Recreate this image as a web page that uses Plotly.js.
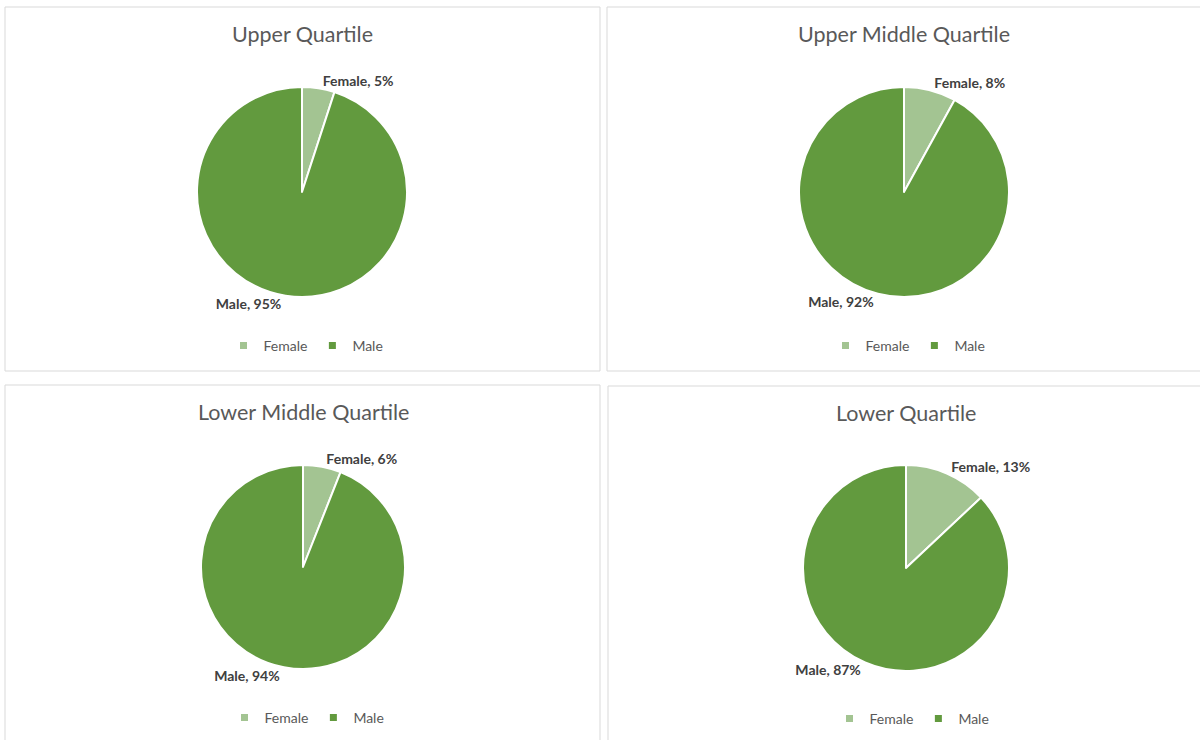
<!DOCTYPE html>
<html>
<head>
<meta charset="utf-8">
<script src="https://cdn.plot.ly/plotly-3.0.1.min.js"></script>
<style>html,body{margin:0;padding:0;background:#fff;}#chart{width:1200px;height:740px;}</style>
</head>
<body>
<div id="chart"></div>
<script>
// Data
const categories = ["Female", "Male"];
const panelTitles = ["Upper Quartile", "Upper Middle Quartile", "Lower Middle Quartile", "Lower Quartile"];
const upperQuartile = [5, 95];
const upperMiddleQuartile = [8, 92];
const lowerMiddleQuartile = [6, 94];
const lowerQuartile = [13, 87];
const seriesValues = [upperQuartile, upperMiddleQuartile, lowerMiddleQuartile, lowerQuartile];

const W = 1200, H = 740;
const sliceColors = ["#A3C492", "#629A3E"];
// layout geometry (pixels): pie centre + radius, title position, legend position, panel box
const pies = [
  {cx: 302, cy: 192, r: 105, tx: 302, ty: 34, lx: 306, ly: 346, box: [5, 7, 600, 371]},
  {cx: 904, cy: 192, r: 105, tx: 904, ty: 34, lx: 908, ly: 346, box: [607, 7, 1205, 371]},
  {cx: 303, cy: 567, r: 102, tx: 303, ty: 412, lx: 307, ly: 718, box: [5, 385, 600, 745]},
  {cx: 906, cy: 568, r: 103, tx: 906, ty: 413, lx: 912, ly: 719, box: [608, 386, 1205, 745]}
];
const legendNames = ["legend", "legend2", "legend3", "legend4"];

const traces = [];
seriesValues.forEach((vals, i) => {
  const p = pies[i];
  traces.push({
    type: "pie",
    labels: categories,
    values: vals,
    sort: false,
    direction: "clockwise",
    rotation: 0,
    marker: {colors: sliceColors, line: {color: "#ffffff", width: 2}},
    textposition: "outside",
    texttemplate: "%{label}, %{value}%",
    outsidetextfont: {family: "Lato, sans-serif", size: 14, color: "#404040", weight: "bold"},
    domain: {
      x: [(p.cx - p.r) / W, (p.cx + p.r) / W],
      y: [1 - (p.cy + p.r) / H, 1 - (p.cy - p.r) / H]
    },
    showlegend: false,
    hoverinfo: "skip"
  });
  // legend entries (one per category) for this panel's legend
  categories.forEach((cat, j) => {
    traces.push({
      type: "scatter", mode: "markers", x: [null], y: [null],
      name: cat,
      marker: {symbol: "square", size: 7, color: sliceColors[j]},
      legend: legendNames[i], showlegend: true, hoverinfo: "skip"
    });
  });
});

const layout = {
  width: W, height: H,
  margin: {l: 0, r: 0, t: 0, b: 0},
  paper_bgcolor: "#ffffff",
  plot_bgcolor: "rgba(0,0,0,0)",
  font: {family: "Lato, sans-serif", color: "#595959"},
  xaxis: {visible: false},
  yaxis: {visible: false},
  annotations: pies.map((p, i) => ({
    text: panelTitles[i],
    x: p.tx / W, y: 1 - p.ty / H, xref: "paper", yref: "paper",
    xanchor: "center", yanchor: "middle", showarrow: false,
    font: {family: "Lato, sans-serif", size: 21.5, color: "#595959"}
  })),
  shapes: pies.map(p => ({
    type: "rect", xref: "paper", yref: "paper", layer: "below",
    x0: p.box[0] / W, x1: p.box[2] / W, y0: 1 - p.box[3] / H, y1: 1 - p.box[1] / H,
    line: {color: "#D9D9D9", width: 1}, fillcolor: "rgba(0,0,0,0)"
  }))
};
legendNames.forEach((name, i) => {
  const p = pies[i];
  layout[name] = {
    orientation: "h", x: p.lx / W, y: 1 - p.ly / H,
    xanchor: "center", yanchor: "middle",
    font: {family: "Lato, sans-serif", size: 14, color: "#595959"},
    itemwidth: 30, bgcolor: "rgba(0,0,0,0)", traceorder: "normal"
  };
});

Plotly.newPlot("chart", traces, layout, {staticPlot: true, displayModeBar: false});
</script>
</body>
</html>
